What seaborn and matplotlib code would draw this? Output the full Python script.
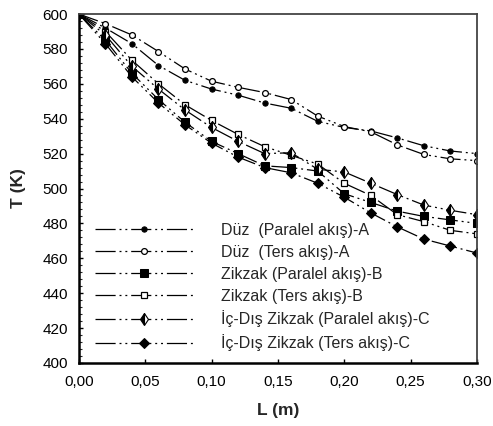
import numpy as np
import pandas as pd
import matplotlib
matplotlib.use("Agg")
import matplotlib.pyplot as plt
import seaborn as sns

# Channel length positions (m)
L = [0.00, 0.02, 0.04, 0.06, 0.08, 0.10, 0.12, 0.14,
     0.16, 0.18, 0.20, 0.22, 0.24, 0.26, 0.28, 0.30]

# Temperature profiles (K)
duz_paralel = [600, 592, 583, 570.5, 562, 557, 553.5, 549,
               546, 538.5, 535, 533, 529, 524.5, 521.5, 520]
duz_ters = [600, 594.5, 588, 578.5, 568.5, 561.5, 558, 555,
            551, 541.5, 535.5, 532.5, 525, 519.5, 517, 516]
zikzak_paralel = [600, 585, 566, 551, 538, 527, 520, 513,
                  512, 510, 497, 492, 487, 484, 482, 480]
zikzak_ters = [600, 590, 573.5, 560, 548, 539, 531, 524,
               519, 514, 503, 496, 485, 481, 476, 474]
icdis_paralel = [600, 588, 570, 557, 545, 535, 527, 520,
                 520.5, 511, 509.5, 503, 496.5, 490.5, 487.5, 485]
icdis_ters = [600, 583, 564, 549, 536.5, 526, 518, 512,
              509, 503, 495, 486, 478, 471, 467, 463]

labels = ["Düz  (Paralel akış)-A",
          "Düz  (Ters akış)-A",
          "Zikzak (Paralel akış)-B",
          "Zikzak (Ters akış)-B",
          "İç-Dış Zikzak (Paralel akış)-C",
          "İç-Dış Zikzak (Ters akış)-C"]

series = [duz_paralel, duz_ters, zikzak_paralel, zikzak_ters,
          icdis_paralel, icdis_ters]

marker_styles = [
    dict(marker="o", markersize=3.8, markerfacecolor="black", markeredgecolor="black"),
    dict(marker="o", markersize=4.2, markerfacecolor="white", markeredgecolor="black", markeredgewidth=0.9),
    dict(marker="s", markersize=5.2, markerfacecolor="black", markeredgecolor="black"),
    dict(marker="s", markersize=4.6, markerfacecolor="white", markeredgecolor="black", markeredgewidth=0.9),
    dict(marker="d", markersize=6.2, markerfacecolor="black", markeredgecolor="black",
         fillstyle="left", markerfacecoloralt="white", markeredgewidth=0.8),
    dict(marker="D", markersize=5.0, markerfacecolor="black", markeredgecolor="black"),
]

sns.set_style("ticks")
plt.rcParams["font.family"] = ["Liberation Sans", "DejaVu Sans"]
plt.rcParams["lines.scale_dashes"] = False

fig = plt.figure(figsize=(4.93, 4.26), dpi=100)
ax = fig.add_axes([0.160, 0.148, 0.8075, 0.819])

dash = (0, (14.5, 2.8, 1.4, 2.8, 1.4, 2.8))
for vals, lab, ms in zip(series, labels, marker_styles):
    df = pd.DataFrame({"L": L, "T": vals})
    sns.lineplot(data=df, x="L", y="T", ax=ax, color="black", linewidth=0.9,
                 linestyle=dash, label=lab, **ms)

ax.set_xlim(0.0, 0.30)
ax.set_ylim(400, 600)
xt = np.arange(0.0, 0.301, 0.05)
ax.set_xticks(xt)
ax.set_xticklabels([f"{v:.2f}".replace(".", ",") for v in xt])
ax.set_yticks(np.arange(400, 601, 20))
ax.set_yticks(np.arange(400, 601, 4), minor=True)
ax.tick_params(axis="both", which="major", direction="in", length=3, width=1,
               labelsize=11, colors="black")
ax.tick_params(axis="x", which="major", pad=9)
ax.tick_params(axis="y", which="major", pad=8)
ax.tick_params(axis="y", which="minor", direction="in", length=2, width=0.8)

for side in ["left", "bottom"]:
    ax.spines[side].set_linewidth(1.8)
    ax.spines[side].set_color("black")
for side in ["top", "right"]:
    ax.spines[side].set_visible(True)
    ax.spines[side].set_linewidth(1.3)
    ax.spines[side].set_color("#444444")

ax.set_xlabel("L (m)", fontsize=12.5, fontweight="bold", labelpad=10)
ax.set_ylabel("T (K)", fontsize=12.5, fontweight="bold", labelpad=12)

leg = ax.legend(loc="lower left", bbox_to_anchor=(0.017, 0.006), frameon=False,
                fontsize=11.5, handlelength=6.14, handletextpad=1.75,
                labelspacing=0.43, numpoints=1, borderaxespad=0.2)

fig.savefig("out.png", dpi=100)
